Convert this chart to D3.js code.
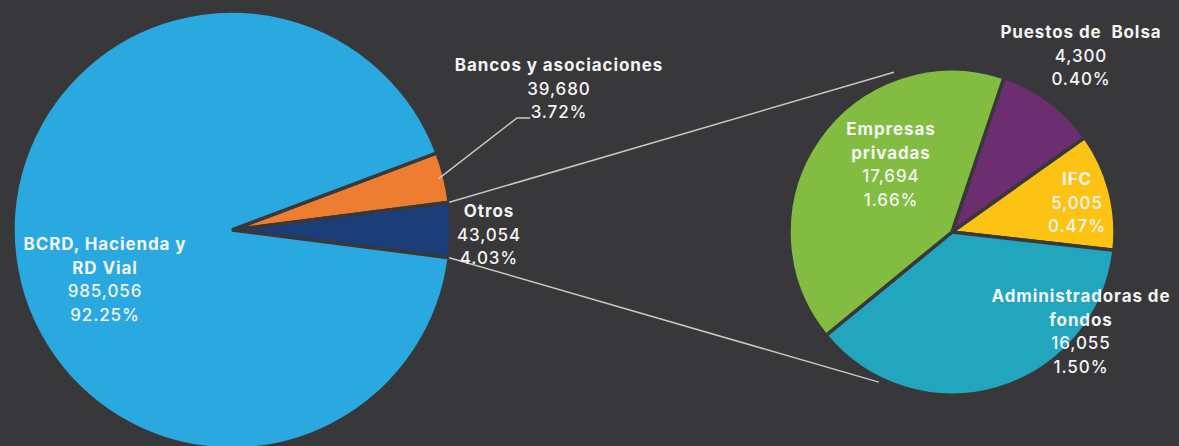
<!DOCTYPE html>
<html>
<head>
<meta charset="utf-8">
<script src="https://cdn.jsdelivr.net/npm/d3@7"></script>
<style>
  html, body { margin: 0; padding: 0; background: #38383a; }
  svg { display: block; }
  text { font-family: Inter, "Open Sans", sans-serif; fill: #f4f4f4; white-space: pre; letter-spacing: 0.9px; }
  .name { font-weight: 700; }
  .num { font-weight: 500; }
</style>
</head>
<body>
<svg></svg>
<script>
// canvas
const w = 1179;
const h = 446;

// main pie data
const bigNames = [["Bancos y asociaciones"], ["Otros"], ["BCRD, Hacienda y", "RD Vial"]];
const bigValues = [39680, 43054, 985056];
const bigPercents = ["3.72%", "4.03%", "92.25%"];
const bigColors = ["#ed7d31", "#1b3e78", "#29a9e0"];

// breakdown of "Otros"
const smallNames = [["Puestos de  Bolsa"], ["IFC"], ["Administradoras de", "fondos"], ["Empresas", "privadas"]];
const smallValues = [4300, 5005, 16055, 17694];
const smallPercents = ["0.40%", "0.47%", "1.50%", "1.66%"];
const smallColors = ["#6c2e71", "#fcc314", "#22a6bd", "#82bd41"];

// where the label blocks go (first baseline)
const bigLabelPos = [[559, 71], [489, 217], [105, 250]];
const smallLabelPos = [[1081, 38], [1077, 185], [1081, 302], [891, 135]];

const lineH = 23.5;
const deg = Math.PI / 180;
const fmt = d3.format(",");

const svg = d3.select("svg")
              .attr("width", w)
              .attr("height", h);

// big pie
const bigC = [232, 230];
const bigR = 219;
const bigTotal = d3.sum(bigValues);
// put "Otros" centred on the right (east)
const otrosHalf = bigValues[1] / bigTotal * Math.PI;
const bigStart = Math.PI / 2 - otrosHalf - bigValues[0] / bigTotal * 2 * Math.PI;

const bigPie = d3.pie().sort(null).value(d => d)
                 .startAngle(bigStart)
                 .endAngle(bigStart + 2 * Math.PI);
const bigArcs = bigPie(bigValues);
const bigArc = d3.arc().innerRadius(0).outerRadius(bigR);

const gBig = svg.append("g")
                .attr("transform", "translate(" + bigC[0] + "," + bigC[1] + ")");

gBig.selectAll("path")
    .data(bigArcs)
    .enter()
    .append("path")
    .attr("d", bigArc)
    .attr("fill", (d, i) => bigColors[i])
    .attr("stroke", "#38383a")
    .attr("stroke-width", 3.5)
    .attr("stroke-linejoin", "miter");

// small pie
const smallC = [952, 232];
const smallR = 163;
const smallStart = 18.6 * deg;
const smallPie = d3.pie().sort(null).value(d => d)
                   .startAngle(smallStart)
                   .endAngle(smallStart + 2 * Math.PI);
const smallArcs = smallPie(smallValues);
const smallArc = d3.arc().innerRadius(0).outerRadius(smallR);

const gSmall = svg.append("g")
                  .attr("transform", "translate(" + smallC[0] + "," + smallC[1] + ")");

gSmall.selectAll("path")
      .data(smallArcs)
      .enter()
      .append("path")
      .attr("d", smallArc)
      .attr("fill", (d, i) => smallColors[i])
      .attr("stroke", "#38383a")
      .attr("stroke-width", 3.5);

// point on a circle, angle clockwise from 12 o'clock
function polar(c, r, a) {
    return [c[0] + r * Math.sin(a), c[1] - r * Math.cos(a)];
}

// connector lines between the "Otros" slice and the breakdown pie
const otros = bigArcs[1];
const conn = [
    [polar(bigC, bigR, otros.startAngle), polar(smallC, smallR + 7, 340 * deg)],
    [polar(bigC, bigR, otros.endAngle), polar(smallC, smallR + 4, 206 * deg)]
];
svg.selectAll("line.conn")
   .data(conn)
   .enter()
   .append("line")
   .attr("class", "conn")
   .attr("x1", d => d[0][0])
   .attr("y1", d => d[0][1])
   .attr("x2", d => d[1][0])
   .attr("y2", d => d[1][1])
   .attr("stroke", "#c8c8c8")
   .attr("stroke-width", 1.5);

// leader for "Bancos y asociaciones"
const bancosMid = (bigArcs[0].startAngle + bigArcs[0].endAngle) / 2;
const leadStart = polar(bigC, bigR - 6, bancosMid);
svg.append("polyline")
   .attr("points", [leadStart, [517, 118], [530, 118]].map(p => p.join(",")).join(" "))
   .attr("fill", "none")
   .attr("stroke", "#c8c8c8")
   .attr("stroke-width", 1.5);

// labels
function drawLabel(lines, value, pct, pos) {
    const t = svg.append("text")
                 .attr("text-anchor", "middle")
                 .attr("font-size", 17);
    const all = lines.map(s => ({ s: s, c: "name" }))
                     .concat([{ s: fmt(value), c: "num" }, { s: pct, c: "num" }]);
    all.forEach((l, i) => {
        t.append("tspan")
         .attr("class", l.c)
         .attr("x", pos[0])
         .attr("y", pos[1] + i * lineH)
         .text(l.s);
    });
}

bigNames.forEach((n, i) => drawLabel(n, bigValues[i], bigPercents[i], bigLabelPos[i]));
smallNames.forEach((n, i) => drawLabel(n, smallValues[i], smallPercents[i], smallLabelPos[i]));
</script>
</body>
</html>
